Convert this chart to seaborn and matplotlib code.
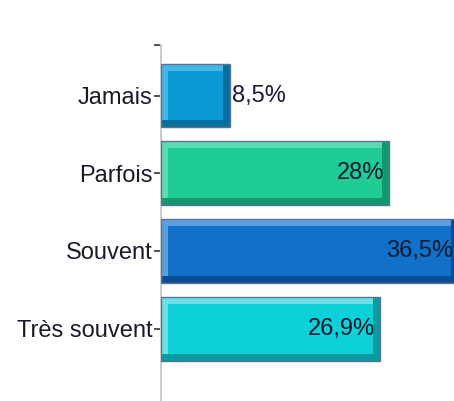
import pandas as pd
import matplotlib.pyplot as plt
import seaborn as sns

categories = ['Jamais', 'Parfois', 'Souvent', 'Très souvent']
values = [8.5, 28.0, 36.5, 26.9]
labels = ['8,5%', '28%', '36,5%', '26,9%']
face_colors = ['#0a9ad6', '#1fcc96', '#1170c8', '#0dd0d8']
light_colors = ['#45b6e8', '#5cdcb2', '#5c9fe0', '#6be0e6']
dark_colors = ['#076f9d', '#14996f', '#0a4f95', '#0a9ba1']

df = pd.DataFrame({'cat': categories, 'val': values})

sns.set_style('white')
plt.rcParams['font.family'] = ['Liberation Sans', 'DejaVu Sans']

fig = plt.figure(figsize=(4.54, 4.01), dpi=100)
ax = fig.add_axes([161 / 454, 0.0, 1 - 161 / 454, 1 - 45 / 401])

bar_h = 0.82
bx = 0.85   # bevel width in data units (x)
by = 0.09   # bevel width in data units (y)

# dark base (bottom/right bevel)
sns.barplot(data=df, x='val', y='cat', hue='cat', palette=dark_colors,
            width=bar_h, linewidth=0, legend=False, ax=ax, saturation=1)

pos = list(range(len(categories)))
# light top/left bevel
ax.barh([p - by / 2 for p in pos], [v - bx for v in values],
        height=bar_h - by, color=light_colors, linewidth=0, zorder=3)
# face
ax.barh(pos, [v - 2 * bx for v in values], left=bx,
        height=bar_h - 2 * by, color=face_colors, linewidth=0, zorder=4)
# thin outline on top
ax.barh(pos, values, height=bar_h, fill=False, edgecolor='#5b7391',
        linewidth=1.0, zorder=5)

for p, v, lab in zip(pos, values, labels):
    if v < 15:
        ax.text(v + 0.2, p, lab, ha='left', va='center', fontsize=17,
                color='#1a1a3a', zorder=6)
    else:
        ax.text(v - 0.6, p, lab, ha='right', va='center', fontsize=17,
                color='#0d1a2e', zorder=6)

ax.set_xlim(0, 36.0)
ax.set_ylim(3.93, -0.65)
ax.set_yticks([-0.65, 0, 1, 2, 3])
ax.set_yticklabels([''] + categories, fontsize=17, color='#1a1a2a')
ax.set_xticks([])
ax.set_xlabel('')
ax.set_ylabel('')
ax.tick_params(axis='y', length=5, width=1.2, color='#333333', pad=1, left=True)

for s in ['top', 'right', 'bottom']:
    ax.spines[s].set_visible(False)
ax.spines['left'].set_color('#cccccc')
ax.spines['left'].set_linewidth(1.5)

fig.savefig('out.png', dpi=100)
